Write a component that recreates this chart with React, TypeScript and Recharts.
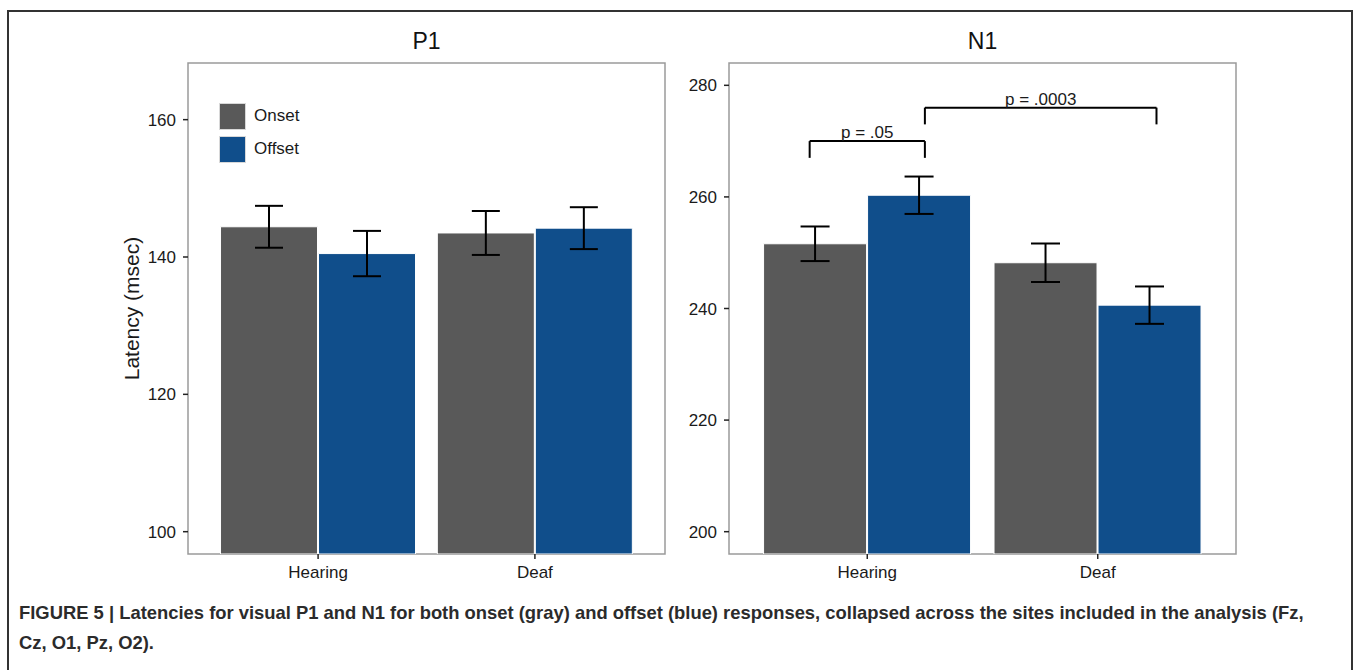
import React from 'react';
import { BarChart, Bar, XAxis, YAxis, ErrorBar, ReferenceLine, ReferenceArea, Legend, Label } from 'recharts';

const FONT = '"Liberation Sans", Arial, Helvetica, sans-serif';
const GRAY = '#595959';
const BLUE = '#104e8b';
const INK = '#1a1a1a';

const groups = ['Hearing', 'Deaf'];
const seriesNames = ['Onset', 'Offset'];

// P1 latencies (msec)
const p1Onset = [144.4, 143.5];
const p1Offset = [140.5, 144.2];
const p1OnsetErr = [3.05, 3.2];
const p1OffsetErr = [3.3, 3.05];
const p1Ticks = [100, 120, 140, 160];
const p1Domain = [96.75, 168.25];

// N1 latencies (msec)
const n1Onset = [251.6, 248.2];
const n1Offset = [260.3, 240.6];
const n1OnsetErr = [3.1, 3.45];
const n1OffsetErr = [3.35, 3.35];
const n1Ticks = [200, 220, 240, 260, 280];
const n1Domain = [196, 284];

// significance brackets, x on group scale (Hearing = 1, Deaf = 2)
const n1BracketFrom = [0.75, 1.25];
const n1BracketTo = [1.25, 2.255];
const n1BracketY = [270, 276];
const n1BracketDrop = [3, 3];
const n1BracketLabels = ['p = .05', 'p = .0003'];

const buildRows = (onset: number[], offset: number[], onErr: number[], offErr: number[]) =>
  groups.map((g, i) => ({
    group: g,
    pos: i + 1,
    onset: onset[i],
    offset: offset[i],
    onsetErr: onErr[i],
    offsetErr: offErr[i]
  }));

const p1Data = buildRows(p1Onset, p1Offset, p1OnsetErr, p1OffsetErr);
const n1Data = buildRows(n1Onset, n1Offset, n1OnsetErr, n1OffsetErr);

const LegendBox = () => (
  <div style={{ fontFamily: FONT, fontSize: 17, color: INK }}>
    {seriesNames.map((name, i) => (
      <div key={name} style={{ display: 'flex', alignItems: 'center', height: 26, marginBottom: 7 }}>
        <div
          style={{
            width: 25,
            height: 25,
            background: i === 0 ? GRAY : BLUE,
            border: '1px solid #d8d8d8',
            marginRight: 8
          }}
        />
        <span>{name}</span>
      </div>
    ))}
  </div>
);

interface PanelProps {
  title: string;
  data: any[];
  domain: number[];
  ticks: number[];
  width: number;
  height: number;
  margin: { top: number; right: number; bottom: number; left: number };
  yAxisWidth: number;
  yLabel?: string;
  legend?: boolean;
  capWidth: number;
  brackets?: boolean;
}

const Panel: React.FC<PanelProps> = ({
  title,
  data,
  domain,
  ticks,
  width,
  height,
  margin,
  yAxisWidth,
  yLabel,
  legend,
  capWidth,
  brackets
}) => {
  const plotWidth = width - margin.left - margin.right - yAxisWidth;
  const pad = plotWidth / 22;
  const tickStyle = { fontSize: 17, fill: INK, fontFamily: FONT };

  return (
    <BarChart width={width} height={height} data={data} margin={margin} barCategoryGap="5%" barGap={1}>
      <XAxis
        dataKey="group"
        padding={{ left: pad, right: pad }}
        axisLine={false}
        tickLine={{ stroke: '#222', strokeWidth: 1.5 }}
        tickSize={5}
        tickMargin={7}
        height={30}
        tick={tickStyle}
      />
      <XAxis xAxisId="num" dataKey="pos" type="number" domain={[0.4, 2.6]} allowDataOverflow hide />
      <YAxis
        type="number"
        domain={domain}
        ticks={ticks}
        allowDataOverflow
        width={yAxisWidth}
        axisLine={false}
        tickLine={{ stroke: '#222', strokeWidth: 1.5 }}
        tickSize={5}
        tickMargin={7}
        tick={tickStyle}
        label={
          yLabel
            ? {
                value: yLabel,
                angle: -90,
                position: 'insideLeft',
                offset: 34,
                style: { textAnchor: 'middle' },
                fontSize: 21,
                fill: INK,
                fontFamily: FONT
              }
            : undefined
        }
      />
      {legend && (
        <Legend
          layout="vertical"
          align="center"
          verticalAlign="middle"
          content={<LegendBox />}
          wrapperStyle={{ left: 219, top: 103, width: 'auto' }}
        />
      )}
      <Bar dataKey="onset" name="Onset" fill={GRAY} stroke="#ffffff" strokeWidth={1} isAnimationActive={false}>
        <ErrorBar dataKey="onsetErr" width={capWidth} strokeWidth={2} stroke="#000" isAnimationActive={false} />
      </Bar>
      <Bar dataKey="offset" name="Offset" fill={BLUE} stroke="#ffffff" strokeWidth={1} isAnimationActive={false}>
        <ErrorBar dataKey="offsetErr" width={capWidth} strokeWidth={2} stroke="#000" isAnimationActive={false} />
      </Bar>
      {brackets &&
        n1BracketLabels.map((lbl, i) => {
          const a = n1BracketFrom[i];
          const b = n1BracketTo[i];
          const y = n1BracketY[i];
          const d = n1BracketDrop[i];
          return (
            <React.Fragment key={lbl}>
              <ReferenceLine
                xAxisId="num"
                segment={[{ x: a, y }, { x: b, y }]}
                stroke="#000"
                strokeWidth={2}
                label={{ value: lbl, position: 'top', offset: 3, fontSize: 17, fill: INK, fontFamily: FONT }}
              />
              <ReferenceLine xAxisId="num" segment={[{ x: a, y }, { x: a, y: y - d }]} stroke="#000" strokeWidth={2} />
              <ReferenceLine xAxisId="num" segment={[{ x: b, y }, { x: b, y: y - d }]} stroke="#000" strokeWidth={2} />
            </React.Fragment>
          );
        })}
      <ReferenceArea
        xAxisId="num"
        x1={0.4}
        x2={2.6}
        y1={domain[0]}
        y2={domain[1]}
        fill="none"
        stroke="#9a9a9a"
        strokeWidth={1.5}
        ifOverflow="visible"
      >
        <Label value={title} position="top" offset={14} fontSize={23} fill="#111" fontFamily={FONT} />
      </ReferenceArea>
    </BarChart>
  );
};

export default function App() {
  return (
    <div
      style={{
        position: 'absolute',
        left: 0,
        top: 0,
        width: 1358,
        height: 670,
        overflow: 'hidden',
        background: '#fff',
        fontFamily: FONT
      }}
    >
      <div
        style={{
          position: 'absolute',
          left: 7,
          top: 10,
          width: 1346,
          height: 720,
          border: '2px solid #333',
          boxSizing: 'border-box'
        }}
      />
      <div style={{ position: 'absolute', left: 0, top: 0 }}>
        <Panel
          title="P1"
          data={p1Data}
          domain={p1Domain}
          ticks={p1Ticks}
          width={690}
          height={600}
          margin={{ top: 63, right: 25, bottom: 16, left: 98 }}
          yAxisWidth={90}
          yLabel="Latency (msec)"
          legend
          capWidth={14}
        />
      </div>
      <div style={{ position: 'absolute', left: 670, top: 0 }}>
        <Panel
          title="N1"
          data={n1Data}
          domain={n1Domain}
          ticks={n1Ticks}
          width={600}
          height={600}
          margin={{ top: 63, right: 34, bottom: 16, left: 9 }}
          yAxisWidth={50}
          capWidth={14.5}
          brackets
        />
      </div>
      <div
        style={{
          position: 'absolute',
          left: 19,
          top: 598,
          fontSize: 18.4,
          lineHeight: '30px',
          fontWeight: 'bold',
          color: '#2b2b2b',
          whiteSpace: 'nowrap'
        }}
      >
        <div>
          FIGURE 5 | Latencies for visual P1 and N1 for both onset (gray) and offset (blue) responses, collapsed across the
          sites included in the analysis (Fz,
        </div>
        <div>Cz, O1, Pz, O2).</div>
      </div>
    </div>
  );
}
